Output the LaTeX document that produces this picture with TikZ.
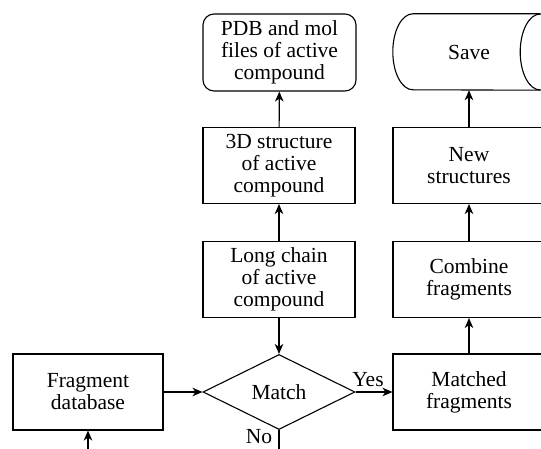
\documentclass[tikz,border=0pt]{standalone}
\usepackage{fontspec}
\setmainfont{Liberation Serif}
\usetikzlibrary{shapes.geometric,arrows.meta}
\begin{document}
\begin{tikzpicture}[x=1pt,y=-1pt,
  every node/.style={font=\rmfamily\fontsize{21.5}{22}\selectfont, align=center, inner sep=0pt},
  stepbox/.style={draw, line width=1.1pt, minimum width=152pt, minimum height=76pt},
  roundbox/.style={stepbox, rounded corners=11pt},
  decision/.style={draw, line width=1.1pt, diamond, aspect=2, minimum width=152pt, minimum height=75pt},
  arr/.style={line width=1.1pt, -{Stealth[length=10pt,width=8.5pt,inset=3pt]}},
  plain/.style={line width=1.1pt}]
\useasboundingbox (0,0) rectangle (541,449);
\clip (0,0) rectangle (541,449);

% middle column
\node[roundbox, minimum width=153pt, minimum height=77pt] (pdb) at (279.5,52.5) {PDB and mol\\files of active\\compound};
\node[stepbox] (struct) at (279,165.5) {3D structure\\of active\\compound};
\node[stepbox] (chain) at (279,279.5) {Long chain\\of active\\compound};
\node[decision] (match) at (279,392) {Match};

% left column
\node[stepbox, minimum width=150pt] (frag) at (88,392) {Fragment\\database};

% right column: storage cylinder lying on its side
\node[minimum width=127pt, minimum height=76pt] (save) at (476.5,52) {};
\node (savetext) at (469,52) {Save};
\draw[plain] (save.north east) -- (save.north west)
  arc[start angle=270, end angle=90, x radius=20, y radius=38]
  -- (save.south east);
\draw[plain] (save.east) ellipse[x radius=20, y radius=38];
\node[stepbox] (newst) at (469,165.5) {New\\structures};
\node[stepbox] (combine) at (469,279.5) {Combine\\fragments};
\node[stepbox] (matched) at (469,392) {Matched\\fragments};

% branch labels
\node (yes) at (368,380) {Yes};
\node (no) at (259,437) {No};

% loose ends
\coordinate (noend) at (279,449);
\coordinate (dbin) at (88,449);

% connectors
\draw[arr] (frag) -- (match);
\draw[arr] (match) -- (matched);
\draw[arr] (chain) -- (match);
\draw[arr] (chain) -- (struct);
\draw[arr] (struct) -- (pdb);
\draw[arr] (matched) -- (combine);
\draw[arr] (combine) -- (newst);
\draw[arr] (newst.north) -- (newst.north |- save.south);
\draw[plain] (match.south) -- (noend);
\draw[arr] (dbin) -- (frag.south);
\end{tikzpicture}
\end{document}
